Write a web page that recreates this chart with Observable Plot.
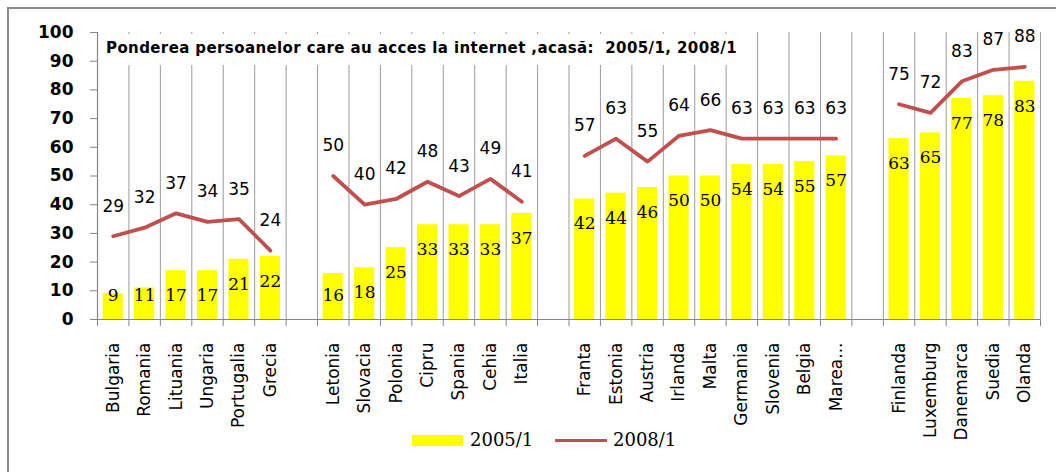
<!DOCTYPE html>
<html>
<head>
<meta charset="utf-8">
<script src="https://cdn.jsdelivr.net/npm/d3@7"></script>
<script src="https://cdn.jsdelivr.net/npm/@observablehq/plot@0.6"></script>
<style>
  body { margin: 0; background: #fff; }
  #wrap { position: relative; width: 1056px; height: 472px; overflow: hidden; background: #fff; }
  #frame { position: absolute; left: 7px; top: 7px; width: 1100px; height: 500px;
           border-left: 2px solid #8c8c8c; border-top: 2px solid #8c8c8c; box-sizing: border-box; }
  #chart { position: absolute; left: 0; top: 0; }
  #title { position: absolute; left: 99px; top: 34px; width: 644px; height: 31px; background: #fff;
           padding-left: 7px; box-sizing: border-box; color: #000; }
  #title span { font: bold 15px "DejaVu Sans", sans-serif; line-height: 28px; white-space: pre; }
  .sw-bar { position: absolute; left: 412px; top: 435px; width: 51px; height: 11px; background: #FFFF00; }
  .sw-line { position: absolute; left: 555px; top: 439px; width: 52px; height: 3px; background: #C0504D; }
  .lg-text { position: absolute; top: 429px; font: 18px "DejaVu Serif", serif; color: #000; line-height: 22px; }
</style>
</head>
<body>
<div id="wrap">
  <div id="frame"></div>
  <div id="chart"></div>
  <div id="title"><span></span></div>
  <div id="legend"></div>
</div>
<script>
// ---- data ----
const countries = [
  "Bulgaria", "Romania", "Lituania", "Ungaria", "Portugalia", "Grecia", "",
  "Letonia", "Slovacia", "Polonia", "Cipru", "Spania", "Cehia", "Italia", "",
  "Franta", "Estonia", "Austria", "Irlanda", "Malta", "Germania", "Slovenia", "Belgia", "Marea...", "",
  "Finlanda", "Luxemburg", "Danemarca", "Suedia", "Olanda"
];
const v2005 = [
  9, 11, 17, 17, 21, 22, null,
  16, 18, 25, 33, 33, 33, 37, null,
  42, 44, 46, 50, 50, 54, 54, 55, 57, null,
  63, 65, 77, 78, 83
];
const v2008 = [
  29, 32, 37, 34, 35, 24, null,
  50, 40, 42, 48, 43, 49, 41, null,
  57, 63, 55, 64, 66, 63, 63, 63, 63, null,
  75, 72, 83, 87, 88
];
const yTicks = [0, 10, 20, 30, 40, 50, 60, 70, 80, 90, 100];
const seriesNames = ["2005/1", "2008/1"];
const titleText = "Ponderea persoanelor care au acces la internet ,acasă:  2005/1, 2008/1";

// ---- build ----
const data = countries.map((c, i) => ({ i, c, a: v2005[i], b: v2008[i] }));
const filled = data.filter(d => d.a != null);
const slotEdges = d3.range(0, countries.length + 1);

const chart = Plot.plot({
  width: 1056,
  height: 472,
  marginLeft: 97,
  marginRight: 16,
  marginTop: 32,
  marginBottom: 153,
  x: { domain: [0, countries.length], axis: null },
  y: { domain: [0, 100], axis: null },
  style: { fontFamily: "DejaVu Sans", background: "transparent", overflow: "visible" },
  marks: [
    Plot.ruleX(slotEdges.slice(1), { y1: 0, y2: 100, stroke: "#9b9b9b", strokeWidth: 1 }),
    Plot.rectY(filled, { x1: d => d.i + 0.18, x2: d => d.i + 0.82, y: "a", fill: "#FFFF00" }),
    Plot.ruleX([0], { y1: 0, y2: 100, stroke: "#868686", strokeWidth: 1.2 }),
    Plot.ruleY([0], { x1: 0, x2: countries.length, stroke: "#868686", strokeWidth: 1.2 }),
    Plot.axisY(yTicks, { tickSize: 7, tickPadding: 17, fontSize: 17, fontWeight: "bold", stroke: "#868686", fill: "#000" }),
    Plot.axisX(slotEdges, { tickSize: 7, tickFormat: () => "", stroke: "#868686" }),
    Plot.line(data, { x: d => d.i + 0.5, y: d => (d.b == null ? NaN : d.b), stroke: "#C0504D", strokeWidth: 3.8, strokeLinejoin: "round", strokeLinecap: "round" }),
    Plot.text(filled, { x: d => d.i + 0.5, y: d => Math.max(d.a - 8.7, 8.4), text: d => String(d.a), fontFamily: "DejaVu Serif", fontSize: 17, fill: "#000" }),
    Plot.text(filled, { x: d => d.i + 0.5, y: "b", text: d => String(d.b), dy: -30, fontSize: 17, fill: "#000" }),
    Plot.text(filled, { x: d => d.i + 0.5, y: 0, text: "c", rotate: -90, textAnchor: "end", dy: 23, fontSize: 17, fill: "#000" })
  ]
});
document.getElementById("chart").appendChild(chart);

// title: fit text to the width it spans in the reference
const tspan = document.querySelector("#title span");
tspan.textContent = titleText;
const targetW = 631;
const w0 = tspan.getBoundingClientRect().width;
tspan.style.letterSpacing = ((targetW - w0) / titleText.length).toFixed(3) + "px";

const legend = document.getElementById("legend");
legend.innerHTML =
  `<div class="sw-bar"></div><div class="lg-text" style="left:470px">${seriesNames[0]}</div>` +
  `<div class="sw-line"></div><div class="lg-text" style="left:613px">${seriesNames[1]}</div>`;
</script>
</body>
</html>
